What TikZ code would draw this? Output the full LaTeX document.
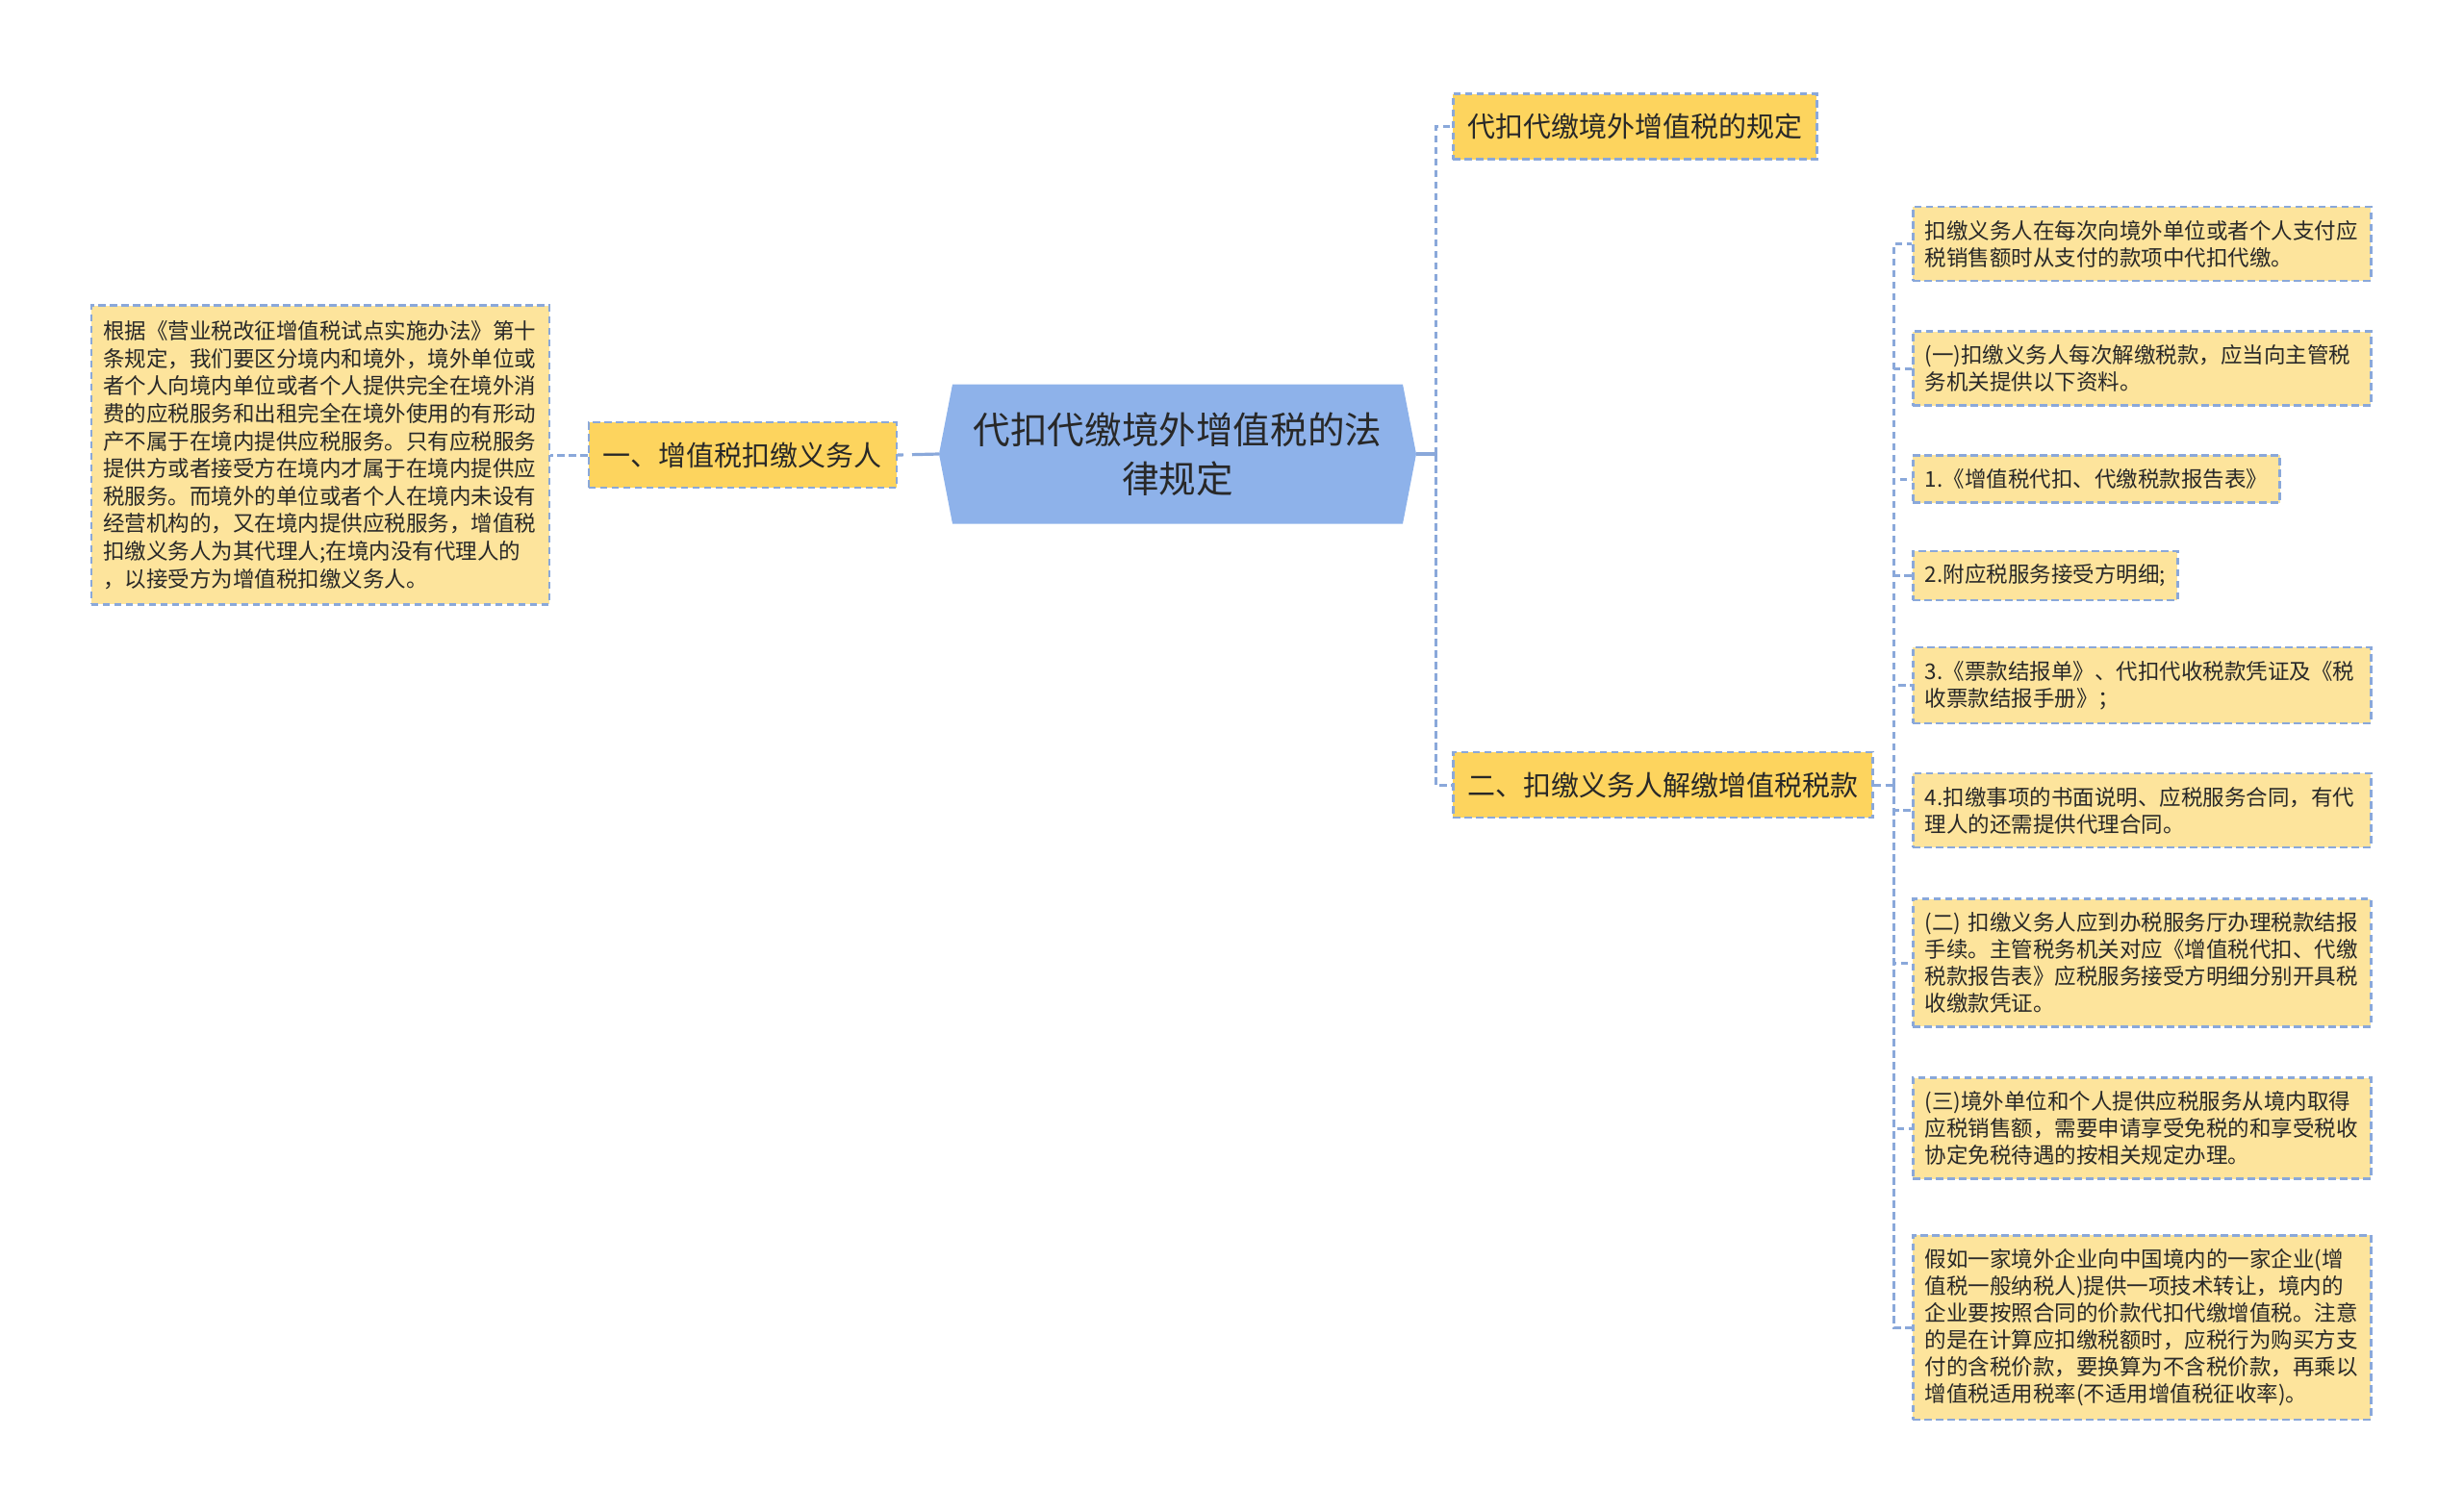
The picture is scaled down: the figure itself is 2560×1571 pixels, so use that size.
\documentclass[tikz,border=0pt]{standalone}
\usepackage{fontspec}
\usepackage{tikz}
\usetikzlibrary{positioning, backgrounds}
\newfontfamily\cjk{Noto Sans CJK SC}
\definecolor{linkblue}{RGB}{138,168,218}
\definecolor{rootfill}{RGB}{142,178,234}
\definecolor{branchfill}{RGB}{253,212,94}
\definecolor{leaffill}{RGB}{253,228,156}
\definecolor{txt}{RGB}{40,40,40}
\tikzset{
  link/.style={draw=linkblue, line width=0.3mm, dash pattern=on 0.75mm off 0.45mm},
  rootlink/.style={draw=linkblue, line width=0.32mm, dash pattern=on 2.8mm off 0.9mm},
  box/.style={draw=linkblue, line width=0.25mm, dash pattern=on 0.75mm off 0.45mm, text=txt},
  branch/.style={box, fill=branchfill, font=\cjk\fontsize{2.9mm}{3.5mm}\selectfont, inner xsep=1.5mm, inner ysep=0mm, minimum height=6.8mm},
  leaf/.style={box, fill=leaffill, font=\cjk\fontsize{2.25mm}{2.8mm}\selectfont, align=left, inner xsep=1.25mm, inner ysep=1.4mm, anchor=west},
  fullleaf/.style={leaf, text width=45.1mm},
}

\begin{document}
\begin{tikzpicture}[x=0.1mm, y=-0.1mm]
  \useasboundingbox (0,0) rectangle (2560,1571);

  \node[font=\cjk\fontsize{3.86mm}{5.1mm}\selectfont, text=txt, align=center, minimum width=49.6mm, minimum height=14.5mm, inner sep=0mm, outer sep=0mm] (root) at (1224,472) {代扣代缴境外增值税的法\\律规定};
  \begin{pgfonlayer}{background}
    \fill[rootfill] ([xshift=1.4mm]root.north west) -- ([xshift=-1.4mm]root.north east) -- (root.east) -- ([xshift=-1.4mm]root.south east) -- ([xshift=1.4mm]root.south west) -- (root.west) -- cycle;
  \end{pgfonlayer}

  \node[branch, anchor=east] (duty) at (933,473) {一、增值税扣缴义务人};
  \node[fullleaf, anchor=east, font=\cjk\fontsize{2.25mm}{2.86mm}\selectfont, inner ysep=1.6mm] (dutytext) at (572,473) {根据《营业税改征增值税试点实施办法》第十\\条规定，我们要区分境内和境外，境外单位或\\者个人向境内单位或者个人提供完全在境外消\\费的应税服务和出租完全在境外使用的有形动\\产不属于在境内提供应税服务。只有应税服务\\提供方或者接受方在境内才属于在境内提供应\\税服务。而境外的单位或者个人在境内未设有\\经营机构的，又在境内提供应税服务，增值税\\扣缴义务人为其代理人;在境内没有代理人的\\，以接受方为增值税扣缴义务人。};

  \node[branch, anchor=west] (rule) at (1509,131.5) {代扣代缴境外增值税的规定};
  \node[branch, anchor=west] (remit) at (1509,816) {二、扣缴义务人解缴增值税税款};

  \node[fullleaf] (pay) at (1987,253.5) {扣缴义务人在每次向境外单位或者个人支付应\\税销售额时从支付的款项中代扣代缴。};
  \node[fullleaf] (docs) at (1987,383) {(一)扣缴义务人每次解缴税款，应当向主管税\\务机关提供以下资料。};
  \node[leaf] (form) at (1987,498) {1.《增值税代扣、代缴税款报告表》};
  \node[leaf] (detail) at (1987,598.5) {2.附应税服务接受方明细;};
  \node[fullleaf] (voucher) at (1987,712.5) {3.《票款结报单》、代扣代收税款凭证及《税\\收票款结报手册》；};
  \node[fullleaf] (contract) at (1987,842.5) {4.扣缴事项的书面说明、应税服务合同，有代\\理人的还需提供代理合同。};
  \node[fullleaf] (hall) at (1987,1001) {(二) 扣缴义务人应到办税服务厅办理税款结报\\手续。主管税务机关对应《增值税代扣、代缴\\税款报告表》应税服务接受方明细分别开具税\\收缴款凭证。};
  \node[fullleaf] (exempt) at (1987,1173) {(三)境外单位和个人提供应税服务从境内取得\\应税销售额，需要申请享受免税的和享受税收\\协定免税待遇的按相关规定办理。};
  \node[fullleaf] (example) at (1987,1380) {假如一家境外企业向中国境内的一家企业(增\\值税一般纳税人)提供一项技术转让，境内的\\企业要按照合同的价款代扣代缴增值税。注意\\的是在计算应扣缴税额时，应税行为购买方支\\付的含税价款，要换算为不含税价款，再乘以\\增值税适用税率(不适用增值税征收率)。};

  \draw[rootlink] (root.west) -- (duty.east);
  \draw[link] (duty.west) -- (dutytext.east);
  \draw[rootlink] (root.east) -- ++(20,0) coordinate (rtrunk);
  \draw[link] (rtrunk) |- (rule.west);
  \draw[link] (rtrunk) |- (remit.west);
  \draw[link] (remit.east) -- ++(21,0) coordinate (ltrunk);
  \foreach \n in {pay,docs,form,detail,voucher,contract,hall,exempt,example}
  {
    \draw[link] (ltrunk) |- (\n.west) ;
  }
\end{tikzpicture}
\end{document}
